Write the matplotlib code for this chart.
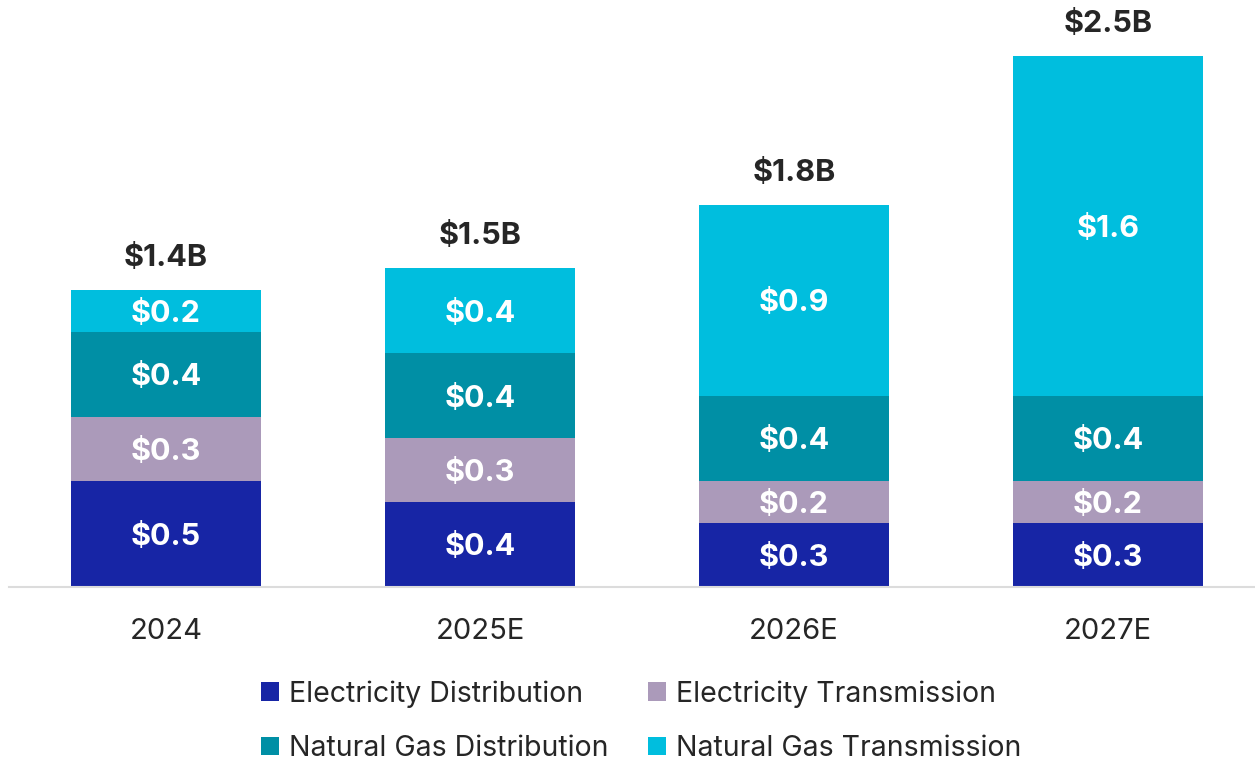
import matplotlib.pyplot as plt
from matplotlib.patches import Patch

plt.rcParams['font.family'] = ['Inter', 'DejaVu Sans']

years = ["2024", "2025E", "2026E", "2027E"]
segments = ["Electricity Distribution", "Electricity Transmission",
            "Natural Gas Distribution", "Natural Gas Transmission"]
elec_dist = [0.5, 0.4, 0.3, 0.3]
elec_trans = [0.3, 0.3, 0.2, 0.2]
gas_dist = [0.4, 0.4, 0.4, 0.4]
gas_trans = [0.2, 0.4, 0.9, 1.6]
totals = ["$1.4B", "$1.5B", "$1.8B", "$2.5B"]
seg_labels = [
    ["$0.5", "$0.4", "$0.3", "$0.3"],
    ["$0.3", "$0.3", "$0.2", "$0.2"],
    ["$0.4", "$0.4", "$0.4", "$0.4"],
    ["$0.2", "$0.4", "$0.9", "$1.6"],
]
colors = ["#1725a5", "#ab9aba", "#008fa5", "#00bede"]

fig = plt.figure(figsize=(12.55, 7.6), dpi=100)
ax = fig.add_axes([9 / 1255, 173 / 760, 1 - 9 / 1255, 587 / 760])

x = list(range(len(years)))
series = [elec_dist, elec_trans, gas_dist, gas_trans]
bottom = [0.0] * len(years)
for vals, col, labs in zip(series, colors, seg_labels):
    ax.bar(x, vals, bottom=bottom, width=0.605, color=col, edgecolor='none')
    for i in x:
        ax.annotate(labs[i], (i, bottom[i] + vals[i] / 2), xytext=(0, -2),
                    textcoords='offset points', ha='center', va='center',
                    color='white', fontsize=22, fontweight='bold')
    bottom = [b + v for b, v in zip(bottom, vals)]

for i in x:
    ax.annotate(totals[i], (i, bottom[i]), xytext=(0, 23), textcoords='offset points',
                ha='center', va='center', fontsize=22, fontweight='bold', color='#262626')

ax.set_xlim(-0.5, 3.468)
ax.set_ylim(0, 587 / 212.5)
for s in ['top', 'right', 'left']:
    ax.spines[s].set_visible(False)
ax.spines['bottom'].set_color('#dcdcdc')
ax.spines['bottom'].set_linewidth(1.5)
ax.set_yticks([])
ax.set_xticks(x)
ax.set_xticklabels(years, fontsize=21, color='#262626')
ax.tick_params(axis='x', length=0, pad=22)

handles = [Patch(facecolor=c, edgecolor='none') for c in colors]
# column-major fill: first row ED / ET, second row NGD / NGT
order = [0, 2, 1, 3]
fig.legend([handles[k] for k in order], [segments[k] for k in order],
           loc='upper left', bbox_to_anchor=(261 / 1255, 1 - 680 / 760), ncol=2,
           frameon=False, fontsize=20.5, handlelength=0.62, handleheight=0.62,
           handletextpad=0.35, columnspacing=1.4, labelspacing=0.975,
           labelcolor='#262626', borderaxespad=0, borderpad=0)

fig.savefig('out.png', dpi=100)
